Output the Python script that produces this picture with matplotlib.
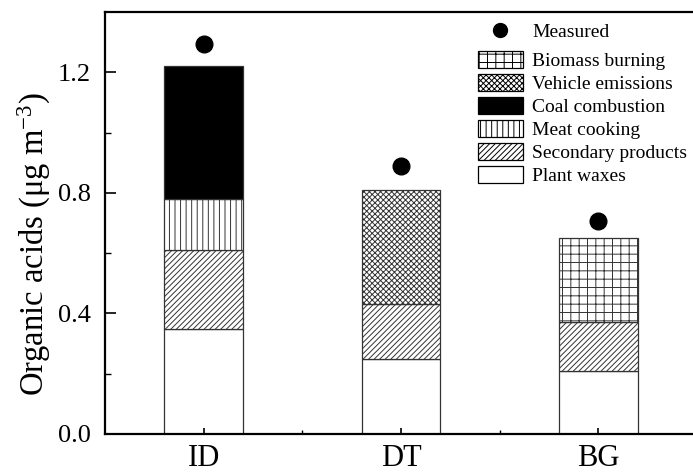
import numpy as np
import matplotlib
matplotlib.use('Agg')
import matplotlib.pyplot as plt
from matplotlib.patches import Patch
from matplotlib.lines import Line2D

plt.rcParams['font.family'] = ['Liberation Serif', 'DejaVu Serif']
plt.rcParams['mathtext.fontset'] = 'custom'
plt.rcParams['mathtext.rm'] = 'Liberation Serif'
plt.rcParams['mathtext.it'] = 'Liberation Serif:italic'
plt.rcParams['hatch.linewidth'] = 0.7

sites = ['ID', 'DT', 'BG']
plant_waxes = [0.35, 0.25, 0.21]
secondary = [0.26, 0.18, 0.16]
meat_cooking = [0.17, 0.0, 0.0]
coal = [0.44, 0.0, 0.0]
vehicle = [0.0, 0.38, 0.0]
biomass = [0.0, 0.0, 0.28]
measured = [1.295, 0.89, 0.705]

fig = plt.figure(figsize=(6.93, 4.72), dpi=100)
ax = fig.add_axes([105/693, 38/472, 592/693, 422/472])

x = np.arange(len(sites))
w = 0.4
ec = '#333333'
bottom = np.zeros(3)
layers = [
    (plant_waxes, 'white', ''),
    (secondary, 'white', '//////'),
    (meat_cooking, 'white', '|||'),
    (coal, 'black', ''),
    (vehicle, 'white', 'xxxxxx'),
    (biomass, 'white', '++'),
]
for vals, fc, h in layers:
    vals = np.array(vals)
    m = vals > 0
    ax.bar(x[m], vals[m], w, bottom=bottom[m], color=fc, edgecolor=ec, hatch=h, linewidth=0.9)
    bottom += vals

ax.plot(x, measured, 'o', color='black', markersize=12, linestyle='none')

ax.set_xlim(-0.5, 2.5)
ax.set_ylim(0, 1.4)
ax.set_yticks([0.0, 0.4, 0.8, 1.2])
ax.set_yticks([0.2, 0.6, 1.0], minor=True)
ax.set_yticklabels(['0.0', '0.4', '0.8', '1.2'])
ax.set_xticks(x)
ax.set_xticklabels(sites)
ax.set_xticks([0.5, 1.5], minor=True)
ax.tick_params(axis='y', which='major', direction='in', length=8, width=1.2, labelsize=19, pad=10)
ax.tick_params(axis='y', which='minor', direction='in', length=4, width=1)
ax.tick_params(axis='x', which='major', direction='in', length=4, width=1.2, labelsize=22, pad=7)
ax.tick_params(axis='x', which='minor', direction='in', length=3, width=1)
ax.spines['right'].set_visible(False)
for s in ['left', 'top', 'bottom']:
    ax.spines[s].set_linewidth(1.6)

ax.set_ylabel(r'Organic acids (μg m$^{\mathrm{-3}}$)', fontsize=23.5)
ax.yaxis.set_label_coords(-0.088, 0.45)

# legend: measured dot on its own row, sources below
leg_kw = dict(loc='upper left', frameon=False, fontsize=14, handlelength=2.3,
              handleheight=0.95, handletextpad=0.5, labelspacing=0.2,
              borderpad=0, borderaxespad=0)
dot = Line2D([], [], marker='o', color='black', linestyle='none', markersize=10)
leg1 = fig.legend([dot], ['Measured'], bbox_to_anchor=(478/693, 1 - 22/472), **leg_kw)

handles = [
    Patch(facecolor='white', edgecolor='black', hatch='++', linewidth=0.9),
    Patch(facecolor='white', edgecolor='black', hatch='xxxxxx', linewidth=0.9),
    Patch(facecolor='black', edgecolor='black', linewidth=0.9),
    Patch(facecolor='white', edgecolor='black', hatch='|||', linewidth=0.9),
    Patch(facecolor='white', edgecolor='black', hatch='//////', linewidth=0.9),
    Patch(facecolor='white', edgecolor='black', linewidth=0.9),
]
labels = ['Biomass burning', 'Vehicle emissions', 'Coal combustion',
          'Meat cooking', 'Secondary products', 'Plant waxes']
fig.legend(handles, labels, bbox_to_anchor=(478/693, 1 - 51/472), **leg_kw)

fig.savefig('out.png', dpi=100)
